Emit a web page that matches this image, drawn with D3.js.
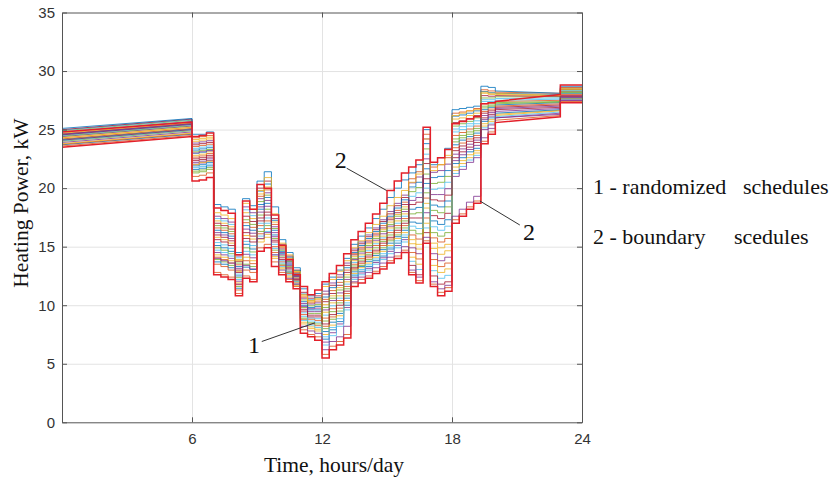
<!DOCTYPE html>
<html>
<head>
<meta charset="utf-8">
<script src="https://cdnjs.cloudflare.com/ajax/libs/d3/7.8.5/d3.min.js"></script>
<style>
  body { margin: 0; background: #fff; }
  svg { display: block; }
</style>
</head>
<body>
<div id="chart"></div>
<script>
// axis ticks
const xTicks = [6, 12, 18, 24];
const yTicks = [0, 5, 10, 15, 20, 25, 30, 35];

// every schedule (kW): [0h, 6h] sloped night part, then 42 steps of 20 min (6:00 - 20:00),
// then [20h, 23h] sloped evening part, then the 23h-24h step
const stepStart = 6, stepHours = 1 / 3, stepCount = 42;

// randomized schedules
const sched01 = [23.7,24.6, 21.9,22.0,22.2, 15.1,14.9,14.6,12.5,15.2,14.8, 18.6,19.2,16.4,14.6,13.7,12.6,10.3,9.8,9.9, 7.1,7.9,8.6,10.0,12.5,12.9,13.3,13.8,14.2,14.8,15.3,15.8, 20.1,20.5,23.8,20.9,21.0,21.5, 23.7,24.1,24.4,24.7,26.7,26.9, 27.1,27.3,28.1];
const sched02 = [23.8,24.7, 22.8,22.9,23.1, 17.2,17.0,16.7,13.9,17.9,17.4, 15.4,15.8,14.0,13.1,12.4,11.7,8.4,8.0,7.8, 9.4,10.2,10.8,12.0,13.8,14.3,14.8,15.4,15.9,16.6,17.2,17.8, 15.6,15.2,18.7,15.3,14.9,15.2, 21.5,22.1,22.6,23.0,25.3,25.7, 26.2,26.6,27.6];
const sched03 = [24.0,24.9, 21.3,21.4,21.6, 13.9,13.7,13.4,11.6,13.5,13.3, 17.7,18.2,15.7,14.2,13.3,12.4,9.8,9.3,9.3, 8.0,8.8,9.5,10.8,13.0,13.4,13.9,14.4,14.9,15.5,16.0,16.6, 17.8,17.9,21.2,18.1,17.9,18.4, 25.3,25.5,25.7,26.0,27.7,27.7, 27.8,27.8,28.4];
const sched04 = [24.1,25.0, 23.7,23.8,23.9, 16.0,15.8,15.5,13.0,16.2,15.9, 20.0,20.6,17.4,15.2,14.2,13.0,11.1,10.6,10.8, 10.3,11.0,11.7,12.8,14.3,14.8,15.4,16.0,16.6,17.3,17.9,18.6, 13.4,12.6,16.2,12.5,11.8,12.0, 22.6,23.1,23.5,23.9,26.0,26.3, 26.7,26.9,27.8];
const sched05 = [24.2,25.1, 24.3,24.4,24.5, 13.5,13.3,13.0,11.3,13.0,12.8, 16.8,17.2,15.0,13.7,12.9,12.1,9.2,8.8,8.7, 8.9,9.7,10.4,11.6,13.5,14.0,14.5,15.1,15.6,16.2,16.8,17.4, 20.8,21.4,24.6,21.8,22.0,22.6, 26.4,26.5,26.6,26.8,28.4,28.3, 28.2,28.1,28.6];
const sched06 = [24.4,25.3, 22.2,22.3,22.5, 17.6,17.4,17.1,14.2,18.4,17.9, 19.1,19.6,16.7,14.8,13.8,12.7,10.6,10.1,10.2, 11.2,11.9,12.6,13.6,14.8,15.4,16.0,16.6,17.3,18.0,18.7,19.4, 14.9,14.4,17.9,14.4,13.8,14.1, 21.0,21.6,22.2,22.6,25.0,25.4, 26.0,26.4,27.5];
const sched07 = [24.5,25.4, 23.4,23.5,23.6, 14.7,14.5,14.2,12.2,14.6,14.3, 15.9,16.3,14.3,13.3,12.6,11.8,8.7,8.3,8.1, 6.6,7.4,8.2,9.6,12.2,12.6,13.0,13.5,13.9,14.4,14.9,15.4, 19.3,19.6,22.9,19.9,20.0,20.5, 24.8,25.0,25.3,25.5,27.4,27.4, 27.5,27.6,28.3];
const sched08 = [24.6,25.5, 21.6,21.7,21.9, 16.4,16.2,15.9,13.3,16.8,16.4, 18.2,18.7,16.0,14.4,13.5,12.5,10.0,9.6,9.6, 10.7,11.5,12.2,13.2,14.5,15.1,15.7,16.3,17.0,17.6,18.3,19.0, 17.1,17.0,20.4,17.2,16.9,17.3, 22.1,22.6,23.1,23.4,25.7,26.0, 26.4,26.7,27.7];
const sched09 = [24.7,25.6, 24.0,24.1,24.2, 14.3,14.1,13.8,11.9,14.1,13.8, 19.5,20.1,17.1,15.0,14.0,12.9,10.8,10.3,10.5, 7.5,8.3,9.1,10.4,12.7,13.2,13.6,14.1,14.6,15.1,15.7,16.2, 14.1,13.5,17.0,13.4,12.8,13.1, 25.9,26.0,26.2,26.4,28.1,28.0, 28.0,27.9,28.5];
const sched10 = [24.9,25.8, 23.1,23.2,23.3, 16.8,16.6,16.3,13.6,17.3,16.9, 16.3,16.8,14.7,13.5,12.8,12.0,8.9,8.5,8.4, 9.8,10.6,11.3,12.4,14.0,14.6,15.1,15.7,16.3,16.9,17.6,18.2, 16.4,16.1,19.6,16.2,15.9,16.2, 24.2,24.5,24.8,25.1,27.0,27.1, 27.3,27.4,28.2];
const sched11 = [25.0,25.9, 22.5,22.6,22.8, 15.6,15.4,15.1,12.8,15.7,15.4, 17.2,17.7,15.4,13.9,13.1,12.2,9.5,9.0,9.0, 8.4,9.2,10.0,11.2,13.2,13.7,14.2,14.7,15.3,15.8,16.4,17.0, 18.6,18.8,22.1,19.0,18.9,19.4, 23.2,23.6,24.0,24.3,26.4,26.6, 26.9,27.1,27.9];
const sched12 = [25.1,25.95, 24.6,24.6,24.8, 18.6,18.4,18.2,14.5,19.1,18.5, 20.6,21.4,18.4,15.6,14.5,13.2,11.4,10.8,11.0, 11.8,12.4,13.0,14.0,15.2,15.9,16.6,17.4,18.2,19.2,20.0,20.7, 21.3,22.0,25.0,22.0,22.6,23.4, 26.7,26.8,26.9,27.0,28.7,28.6, 28.3,28.1,28.7];
const sched13 = [23.6,24.5, 21.0,21.1,21.3, 12.8,12.6,12.4,11.0,12.5,12.2, 14.9,15.2,13.7,12.8,12.2,11.6,7.9,7.5,7.3, 5.8,6.5,6.9,7.5,11.9,12.2,12.5,12.9,13.3,13.8,14.2,14.7, 12.8,12.1,15.5,11.8,11.1,11.5, 17.3,17.8,18.4,18.9,24.0,24.8, 25.8,26.2,27.4];
const sched14 = [24.3,25.2, 22.0,22.2,22.3, 17.9,17.7,17.4,13.8,18.7,18.2, 19.8,20.9,17.8,15.3,14.3,12.9,10.9,10.4,10.6, 11.6,12.2,12.9,13.8,14.9,15.5,16.2,16.9,17.6,18.5,19.2,19.8, 20.5,21.2,24.2,21.5,22.0,22.8, 26.2,26.4,26.6,26.7,28.2,28.1, 28.1,27.9,28.4];
const sched15 = [24.6,25.5, 23.0,23.1,23.2, 14.0,13.8,13.6,11.8,13.4,13.1, 15.7,16.2,14.3,13.0,12.3,11.8,8.2,7.8,7.6, 6.2,6.9,7.3,8.2,12.0,12.4,12.8,13.2,13.6,14.1,14.5,15.0, 13.0,12.4,15.8,12.0,11.4,11.7, 17.6,18.2,18.8,19.3,24.3,25.1, 26.0,26.3,27.5];
const sched16 = [23.75,24.65, 22.65,22.75,22.95, 16.6,16.4,16.1,13.45,17.05,16.65, 16.1,16.55,14.5,13.4,12.7,11.9,8.8,8.4,8.25, 10.5,11.25,11.95,13.0,14.4,14.95,15.55,16.15,16.8,17.45,18.1,18.8, 16.0,15.65,19.15,15.75,15.4,15.7, 24.5,24.75,25.05,25.3,27.2,27.25, 27.4,27.5,28.25];
const sched17 = [23.9,24.8, 23.85,23.95,24.05, 14.5,14.3,14.0,12.05,14.35,14.05, 18.4,18.95,16.2,14.5,13.6,12.55,10.15,9.7,9.75, 6.85,7.65,8.4,9.8,12.35,12.75,13.15,13.65,14.05,14.6,15.1,15.6, 20.45,20.95,24.2,21.35,21.5,22.05, 22.9,23.35,23.75,24.1,26.2,26.45, 26.8,27.0,27.85];
const sched18 = [24.05,24.95, 21.75,21.85,22.05, 17.4,17.2,16.9,14.05,18.15,17.65, 17.0,17.45,15.2,13.8,13.0,12.15,9.35,8.9,8.85, 9.15,9.95,10.6,11.8,13.65,14.15,14.65,15.25,15.75,16.4,17.0,17.6, 13.75,13.05,16.6,12.95,12.3,12.55, 21.25,21.85,22.4,22.8,25.15,25.55, 26.1,26.5,27.55];
const sched19 = [24.15,25.05, 23.25,23.35,23.45, 13.7,13.5,13.2,11.45,13.25,13.05, 19.75,20.35,17.25,15.1,14.1,12.95,10.95,10.45,10.65, 7.75,8.55,9.3,10.6,12.85,13.3,13.75,14.25,14.75,15.3,15.85,16.4, 18.2,18.35,21.65,18.55,18.4,18.9, 26.15,26.25,26.4,26.6,28.25,28.15, 28.1,28.0,28.55];
const sched20 = [24.3,25.2, 24.15,24.25,24.35, 15.8,15.6,15.3,12.9,15.95,15.65, 15.65,16.05,14.15,13.2,12.5,11.75,8.55,8.15,7.95, 10.05,10.8,11.5,12.6,14.15,14.7,15.25,15.85,16.45,17.1,17.75,18.4, 15.25,14.8,18.3,14.85,14.35,14.65, 21.8,22.35,22.85,23.2,25.5,25.85, 26.3,26.65,27.65];
const sched21 = [24.45,25.35, 21.45,21.55,21.75, 14.9,14.7,14.4,12.35,14.9,14.55, 18.85,19.4,16.55,14.7,13.75,12.65,10.45,9.95,10.05, 8.65,9.45,10.2,11.4,13.35,13.85,14.35,14.9,15.45,16.0,16.6,17.2, 19.7,20.05,23.35,20.4,20.5,21.0, 23.95,24.3,24.6,24.9,26.85,27.0, 27.2,27.35,28.15];
const sched22 = [24.55,25.45, 22.35,22.45,22.65, 17.0,16.8,16.5,13.75,17.6,17.15, 17.45,17.95,15.55,14.05,13.2,12.3,9.65,9.15,9.15, 10.95,11.7,12.4,13.4,14.65,15.25,15.85,16.45,17.15,17.8,18.5,19.2, 17.45,17.45,20.8,17.65,17.4,17.85, 25.6,25.75,25.95,26.2,27.9,27.85, 27.9,27.85,28.45];
const sched23 = [24.65,25.55, 23.55,23.65,23.75, 14.1,13.9,13.6,11.75,13.8,13.55, 19.3,19.85,16.9,14.9,13.9,12.8,10.7,10.2,10.35, 8.2,9.0,9.75,11.0,13.1,13.55,14.05,14.55,15.1,15.65,16.2,16.8, 14.5,13.95,17.45,13.9,13.3,13.6, 23.45,23.85,24.2,24.5,26.55,26.75, 27.0,27.2,28.0];
const sched24 = [24.8,25.7, 22.05,22.15,22.35, 16.2,16.0,15.7,13.15,16.5,16.15, 17.95,18.45,15.85,14.3,13.4,12.45,9.9,9.45,9.45, 9.6,10.4,11.05,12.2,13.9,14.45,14.95,15.55,16.1,16.75,17.4,18.0, 18.95,19.2,22.5,19.45,19.45,19.95, 22.35,22.85,23.3,23.65,25.85,26.15, 26.55,26.8,27.75];
const sched25 = [24.95,25.85, 22.95,23.05,23.2, 15.35,15.15,14.85,12.65,15.45,15.1, 16.55,17.0,14.85,13.6,12.85,12.05,9.05,8.65,8.55, 7.3,8.1,8.85,10.2,12.6,13.05,13.45,13.95,14.4,14.95,15.5,16.0, 16.75,16.55,20.0,16.7,16.4,16.75, 25.05,25.25,25.5,25.75,27.55,27.55, 27.65,27.7,28.35];

// boundary schedules (red)
const boundaryHigh = [24.8,25.65, 24.4,24.5,24.7, 18.3,18.1,17.85,14.3,18.9,18.2, 20.3,20.0,17.7,15.1,13.9,12.6,11.6,10.9,11.3, 12.0,12.7,13.4,14.4,15.6,16.3,17.0,17.8,18.7,19.8,20.6,21.3, 21.8,22.4,25.2,22.2,22.6,23.3, 25.5,25.7,25.9,26.1,27.2,27.3, 27.4,28.0,28.8];
const boundaryLow = [23.5,24.4, 20.6,20.7,20.9, 12.6,12.4,12.2,10.8,12.3,12.0, 14.6,14.9,13.3,12.6,12.0,11.4,7.6,7.3,7.0, 5.5,6.2,6.6,7.2,11.6,11.9,12.3,12.7,13.1,13.6,14.0,14.5, 12.6,11.9,15.3,11.6,10.8,11.2, 17.0,17.6,18.2,18.7,23.8,24.6, 25.6,26.1,27.3];

const randomizedSchedules = [sched01, sched16, sched02, sched17, sched03, sched18, sched04, sched19,
  sched05, sched20, sched06, sched21, sched07, sched22, sched08, sched23, sched09, sched24,
  sched10, sched25, sched11, sched12, sched13, sched14, sched15];
const boundarySchedules = [boundaryHigh, boundaryLow];

const lineColors = ['#0072BD', '#D95319', '#EDB120', '#7E2F8E', '#77AC30', '#4DBEEE', '#A2142F'];

// labels
const xLabel = 'Time, hours/day';
const yLabel = 'Heating Power, kW';
const legendLines = [['1 - randomized', 'schedules'], ['2 - boundary', 'scedules']];
// callouts: [label, label hour, label kW, line from hour, kW, line to hour, kW]
const callouts = [
  ['2', 12.87, 21.7, 13.14, 21.7, 14.98, 19.8],
  ['2', 21.55, 15.55, 21.13, 16.85, 19.29, 18.9],
  ['1', 8.86, 5.9, 9.22, 6.9, 11.68, 8.5]
];

const config = {
  width: 833, height: 478,
  margin: {top: 12.5, left: 62, right: 251, bottom: 55.7}
};

// turn a schedule into drawable (hour, kW) points
function toPoints(v) {
  const pts = [[0, v[0]], [stepStart, v[1]]];
  for (let i = 0; i < stepCount; i++) {
    const t0 = stepStart + i * stepHours;
    pts.push([t0, v[2 + i]], [t0 + stepHours, v[2 + i]]);
  }
  pts.push([20, v[44]], [23, v[45]], [23, v[46]], [24, v[46]]);
  return pts;
}

const svg = d3.select('#chart').append('svg')
  .attr('width', config.width)
  .attr('height', config.height);

const innerW = config.width - config.margin.left - config.margin.right;
const innerH = config.height - config.margin.top - config.margin.bottom;

const chart = svg.append('g')
  .attr('transform', `translate(${config.margin.left},${config.margin.top})`);

const xScale = d3.scaleLinear().domain([0, 24]).range([0, innerW]);
const yScale = d3.scaleLinear().domain([0, 35]).range([innerH, 0]);

// grid
chart.append('g')
  .attr('class', 'grid')
  .attr('transform', `translate(0,${innerH})`)
  .call(d3.axisBottom(xScale).tickValues(xTicks.slice(0, -1)).tickSize(-innerH).tickFormat(''))
  .call(g => g.select('.domain').remove());
chart.append('g')
  .attr('class', 'grid')
  .call(d3.axisLeft(yScale).tickValues(yTicks.slice(1, -1)).tickSize(-innerW).tickFormat(''))
  .call(g => g.select('.domain').remove());
chart.selectAll('.grid line').attr('stroke', '#e3e3e3').attr('stroke-width', 1);

// schedules
const line = d3.line().x(d => xScale(d[0])).y(d => yScale(d[1]));

chart.append('g').selectAll('.sched')
  .data(randomizedSchedules)
  .join('path')
  .attr('class', 'sched')
  .attr('d', d => line(toPoints(d)))
  .attr('fill', 'none')
  .attr('stroke', (d, i) => lineColors[i % lineColors.length])
  .attr('stroke-opacity', 0.8)
  .attr('stroke-width', 1);

chart.append('g').selectAll('.boundary')
  .data(boundarySchedules)
  .join('path')
  .attr('class', 'boundary')
  .attr('d', d => line(toPoints(d)))
  .attr('fill', 'none')
  .attr('stroke', '#e3202a')
  .attr('stroke-width', 1.5);

// axes (ticks point inward, box on all sides)
const axisColor = '#555';
const xAxisG = chart.append('g')
  .attr('transform', `translate(0,${innerH})`)
  .call(d3.axisBottom(xScale).tickValues(xTicks).tickSizeInner(-5).tickSizeOuter(0).tickPadding(11));
const yAxisG = chart.append('g')
  .call(d3.axisLeft(yScale).tickValues(yTicks).tickSizeInner(-5).tickSizeOuter(0).tickPadding(7));
const topG = chart.append('g')
  .call(d3.axisTop(xScale).tickValues(xTicks).tickSizeInner(-5).tickSizeOuter(0).tickFormat(''));
const rightG = chart.append('g')
  .attr('transform', `translate(${innerW},0)`)
  .call(d3.axisRight(yScale).tickValues(yTicks).tickSizeInner(-5).tickSizeOuter(0).tickFormat(''));

[xAxisG, yAxisG, topG, rightG].forEach(g => {
  g.select('.domain').attr('stroke', axisColor);
  g.selectAll('line').attr('stroke', axisColor);
  g.selectAll('text')
    .attr('fill', '#333')
    .style('font-family', '"Liberation Sans", Arial, sans-serif')
    .style('font-size', '15px');
});

// axis titles
svg.append('text')
  .attr('x', 334)
  .attr('y', 472)
  .attr('text-anchor', 'middle')
  .style('font-family', '"Liberation Serif", "Times New Roman", serif')
  .style('font-size', '21.5px')
  .attr('fill', '#111')
  .text(xLabel);

svg.append('text')
  .attr('transform', 'translate(28,203) rotate(-90)')
  .attr('text-anchor', 'middle')
  .style('font-family', '"Liberation Serif", "Times New Roman", serif')
  .style('font-size', '21.5px')
  .attr('fill', '#111')
  .text(yLabel);

// callouts
const callG = chart.append('g');
callouts.forEach(c => {
  callG.append('line')
    .attr('x1', xScale(c[3])).attr('y1', yScale(c[4]))
    .attr('x2', xScale(c[5])).attr('y2', yScale(c[6]))
    .attr('stroke', '#333').attr('stroke-width', 1);
  callG.append('text')
    .attr('x', xScale(c[1])).attr('y', yScale(c[2]))
    .attr('text-anchor', 'middle')
    .style('font-family', '"Liberation Serif", "Times New Roman", serif')
    .style('font-size', '24px')
    .attr('fill', '#111')
    .text(c[0]);
});

// legend text on the right
const legendX = [[593, 743], [593, 734]];
const legendY = [194, 244];
legendLines.forEach((words, i) => {
  words.forEach((w, j) => {
    svg.append('text')
      .attr('x', legendX[i][j])
      .attr('y', legendY[i])
      .style('font-family', '"Liberation Serif", "Times New Roman", serif')
      .style('font-size', '22px')
      .attr('fill', '#111')
      .text(w);
  });
});
</script>
</body>
</html>
